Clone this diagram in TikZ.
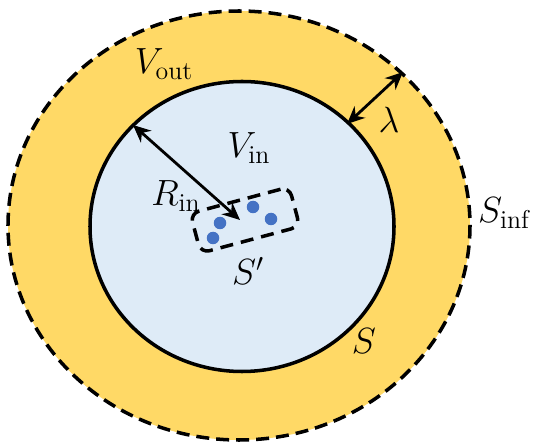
\documentclass[tikz,border=0pt]{standalone}
\usepackage{amsmath}
\usetikzlibrary{arrows.meta}
\definecolor{outyellow}{HTML}{FFD966}
\definecolor{inblue}{HTML}{DEEBF7}
\definecolor{dotblue}{HTML}{4472C4}
\begin{document}
\begin{tikzpicture}[x=0.02cm, y=-0.02cm,
  lbl/.style={font=\fontsize{21}{25}\selectfont},
  dimarrow/.style={line width=1.6pt, {Stealth[length=10pt,width=9pt]}-{Stealth[length=10pt,width=9pt]}},
  charge/.style={circle, fill=dotblue, inner sep=0pt, minimum size=0.25cm},
  sbox/.style={draw, line width=2pt, dash pattern=on 0.26cm off 0.16cm, rounded corners=0.18cm, minimum width=2.05cm, minimum height=0.82cm, rotate=15}]

\useasboundingbox (0,0) rectangle (533,445);

% regions
\filldraw[fill=outyellow, line width=2pt, dash pattern=on 0.26cm off 0.14cm] (239,225.5) ellipse [x radius=231, y radius=214.5];
\filldraw[fill=inblue, line width=2pt] (242,226.5) ellipse [x radius=152, y radius=145];

% arrow ends
\coordinate (rtop) at (133,125);
\coordinate (rend) at (240,220);
\coordinate (lin) at (347,124);
\coordinate (lout) at (403,72);

\node[sbox] (sbox) at (245,220) {};
\node[charge] (q1) at (220,223) {};
\node[charge] (q2) at (213,238) {};
\node[charge] (q3) at (253,207) {};
\node[charge] (q4) at (271,219) {};

\draw[dimarrow] (rtop) -- (rend);
\draw[dimarrow] (lin) -- (lout);

\node[lbl] (vout) at (164,64) {$V_{\text{out}}$};
\node[lbl] (vin) at (249,148) {$V_{\text{in}}$};
\node[lbl] (rin) at (176,196) {$R_{\text{in}}$};
\node[lbl] (sprime) at (248,271) {$S'$};
\node[lbl] (s) at (364,341) {$S$};
\node[lbl] (sinf) at (504,213) {$S_{\text{inf}}$};
\node[lbl] (lam) at (389,120) {$\lambda$};

\end{tikzpicture}
\end{document}
